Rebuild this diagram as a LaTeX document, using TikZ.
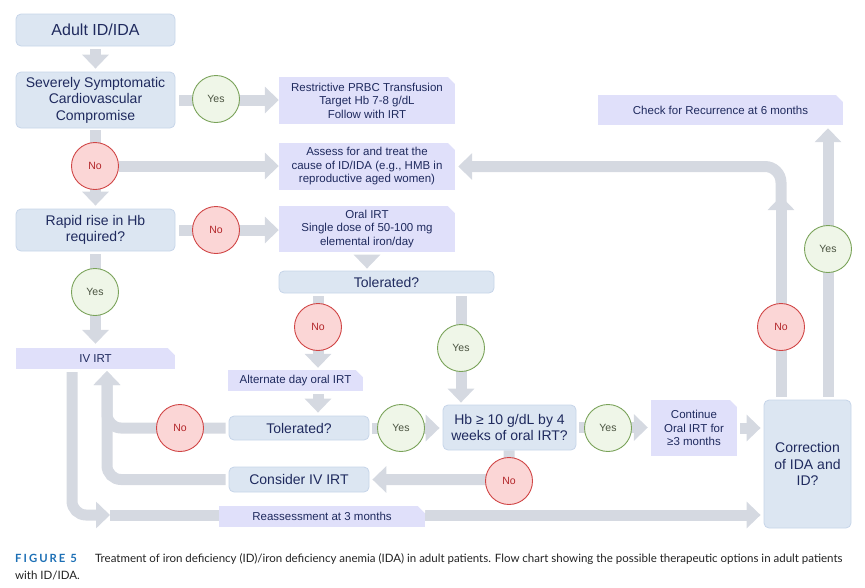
\documentclass[tikz,border=0pt]{standalone}
\usepackage{fontspec}
\setmainfont{Liberation Sans}
\newfontfamily\capfont{Lato}
\usetikzlibrary{arrows.meta,calc}
\definecolor{boxblue}{HTML}{DCE6F2}
\definecolor{boxbluedraw}{HTML}{C6D5E9}
\definecolor{lav}{HTML}{E0E0FA}
\definecolor{navy}{HTML}{1F2A5E}
\definecolor{agray}{HTML}{D5D9E1}
\definecolor{yesfill}{HTML}{EFF6E8}
\definecolor{yesdraw}{HTML}{7AA35A}
\definecolor{yestext}{HTML}{4A5340}
\definecolor{nofill}{HTML}{FBD6D6}
\definecolor{nodraw}{HTML}{D04545}
\definecolor{notext}{HTML}{B3262A}
\definecolor{figblue}{HTML}{1C6FB5}
\definecolor{captext}{HTML}{222222}
\pgfdeclarelayer{bg}
\pgfsetlayers{bg,main}
\tikzset{
 bbox/.style={draw=boxbluedraw, line width=0.8pt, fill=boxblue, rounded corners=5pt, text=navy, align=center, inner sep=0pt, font=\fontsize{14}{16.5}\selectfont},
 lbox/.style={fill=lav, text=navy, align=center, inner sep=0pt, font=\fontsize{11.5}{13.5}\selectfont,
   path picture={\fill[white] ([xshift=-7pt]path picture bounding box.north east) -- (path picture bounding box.north east) -- ([yshift=-7pt]path picture bounding box.north east) -- cycle;}},
 yesc/.style={circle, draw=yesdraw, line width=0.9pt, fill=yesfill, minimum size=47pt, inner sep=0pt, text=yestext, font=\fontsize{10.5}{12}\selectfont},
 noc/.style={circle, draw=nodraw, line width=0.9pt, fill=nofill, minimum size=47pt, inner sep=0pt, text=notext, font=\fontsize{10.5}{12}\selectfont},
 conn/.style={draw=agray, line width=11pt},
 arr/.style={conn, -{Triangle[length=14pt,width=26pt]}},
 captxt/.style={anchor=base west, inner sep=0pt, text=captext, font=\capfont\fontsize{11.5}{13}\selectfont},
}
\begin{document}
\begin{tikzpicture}[x=1pt,y=-1pt]
\useasboundingbox (0,0) rectangle (865,587);
% boxes
\node[bbox, minimum width=159pt, minimum height=32pt, font=\fontsize{16}{19}\selectfont] (adult) at (95.5,30) {Adult ID/IDA};
\node[bbox, minimum width=159pt, minimum height=56pt] (severe) at (95.5,100) {Severely Symptomatic\\Cardiovascular\\Compromise};
\node[lbox, minimum width=176pt, minimum height=47pt] (prbc) at (367,100.5) {Restrictive PRBC Transfusion\\Target Hb 7-8 g/dL\\Follow with IRT};
\node[lbox, minimum width=176pt, minimum height=47pt] (assess) at (367,166.5) {Assess for and treat the\\cause of ID/IDA (e.g., HMB in\\reproductive aged women)};
\node[bbox, minimum width=159pt, minimum height=42pt] (rapid) at (95.5,230) {Rapid rise in Hb\\required?};
\node[lbox, minimum width=176pt, minimum height=46pt] (oral) at (367,229) {Oral IRT\\Single dose of 50-100 mg\\elemental iron/day};
\node[bbox, minimum width=215pt, minimum height=22pt] (tol1) at (386.5,282) {Tolerated?};
\node[lbox, minimum width=135pt, minimum height=21pt] (alt) at (295.5,380.5) {Alternate day oral IRT};
\node[bbox, minimum width=140pt, minimum height=24pt] (tol2) at (299,428) {Tolerated?};
\node[bbox, minimum width=133pt, minimum height=45pt] (hb) at (509.5,427.5) {Hb ≥ 10 g/dL by 4\\weeks of oral IRT?};
\node[lbox, minimum width=86pt, minimum height=56pt] (cont) at (694,428) {Continue\\Oral IRT for\\≥3 months};
\node[bbox, minimum width=87pt, minimum height=128pt] (corr) at (807.5,464) {Correction\\of IDA and\\ID?};
\node[lbox, minimum width=245pt, minimum height=30pt] (check) at (720.5,110) {Check for Recurrence at 6 months};
\node[lbox, minimum width=159pt, minimum height=21pt] (ivirt) at (95.5,358.5) {IV IRT};
\node[bbox, minimum width=140pt, minimum height=25pt] (consider) at (299,479.5) {Consider IV IRT};
\node[lbox, minimum width=206pt, minimum height=21pt] (reass) at (322,516.5) {Reassessment at 3 months};
% circles
\node[yesc] (yes1) at (216,99) {Yes};
\node[noc] (no1) at (95,166) {No};
\node[noc] (no2) at (216,230) {No};
\node[yesc] (yes2) at (95,292) {Yes};
\node[noc] (noA) at (318,327) {No};
\node[yesc] (yesB) at (461,348) {Yes};
\node[noc] (noC) at (180,428) {No};
\node[yesc] (yesD) at (401,428) {Yes};
\node[yesc] (yesE) at (608,428) {Yes};
\node[noc] (noG) at (509,481) {No};
\node[noc] (noE) at (781,327) {No};
\node[yesc] (yesF) at (828,249) {Yes};
\coordinate (turn) at (781,196);
\coordinate (turn2) at (781,204);
\coordinate (ivin) at (107,371);
\coordinate (low) at (72,515);
\coordinate (mid) at (110,515);
% connectors
\begin{pgfonlayer}{bg}
\draw[arr, shorten <=3pt, shorten >=3pt] (adult) -- (severe);
\draw[arr, shorten <=4pt] (severe.east) -- (severe.east -| prbc.west);
\draw[arr, shorten <=2pt, shorten >=3pt] (severe) -- (rapid);
\draw[arr] (no1) -- (no1 -| assess.west);
\draw[arr, shorten <=4pt] (rapid.east) -- (rapid.east -| oral.west);
\draw[arr, shorten <=3pt, shorten >=2pt] (oral.south) -- (oral.south |- tol1.north);
\draw[arr, shorten <=3pt, shorten >=2pt] (tol1.south -| noA) -- (alt.north -| noA);
\draw[arr, shorten <=3pt, shorten >=3pt] (alt.south -| noA) -- (tol2.north -| noA);
\draw[arr, shorten <=3pt, shorten >=2pt] (tol1.south -| yesB) -- (hb.north -| yesB);
\draw[arr, shorten <=3pt, shorten >=3pt] (tol2.east) -- (tol2.east -| hb.west);
\draw[arr, shorten <=3pt, shorten >=3pt] (hb.east) -- (hb.east -| cont.west);
\draw[arr, shorten <=3pt, shorten >=3pt] (cont.east) -- (cont.east -| corr.west);
\draw[arr, shorten <=3pt] (corr.north -| turn) -- (turn);
\draw[arr, rounded corners=16pt, shorten >=3pt] (turn2) |- (assess.east);
\draw[arr, shorten <=3pt, shorten >=3pt] (corr.north -| yesF) -- (check.south -| yesF);
\draw[arr, rounded corners=14pt, shorten >=3pt] (hb.south -| noG) |- (consider.east);
\draw[arr, rounded corners=14pt, shorten <=3pt] (tol2.west) -| (ivin);
\draw[arr, rounded corners=14pt, shorten <=3pt] (consider.west) -| (ivin);
\draw[arr, rounded corners=14pt, shorten <=3pt] (ivirt.south -| low) |- (mid);
\draw[arr, shorten >=3pt] (mid) -- (mid -| corr.west);
\draw[arr, shorten <=3pt, shorten >=4pt] (rapid) -- (ivirt);
\end{pgfonlayer}
% caption
\node[anchor=base west, inner sep=0pt, text=figblue, font=\capfont\bfseries\fontsize{11.3}{13}\selectfont\addfontfeature{LetterSpace=18}] (figlab) at (15,562) {FIGURE 5};
\node[captxt] (cap1) at (95,562) {Treatment of iron deficiency (ID)/iron deficiency anemia (IDA) in adult patients. Flow chart showing the possible therapeutic options in adult patients};
\node[captxt] (cap2) at (15,579) {with ID/IDA.};
\end{tikzpicture}
\end{document}
